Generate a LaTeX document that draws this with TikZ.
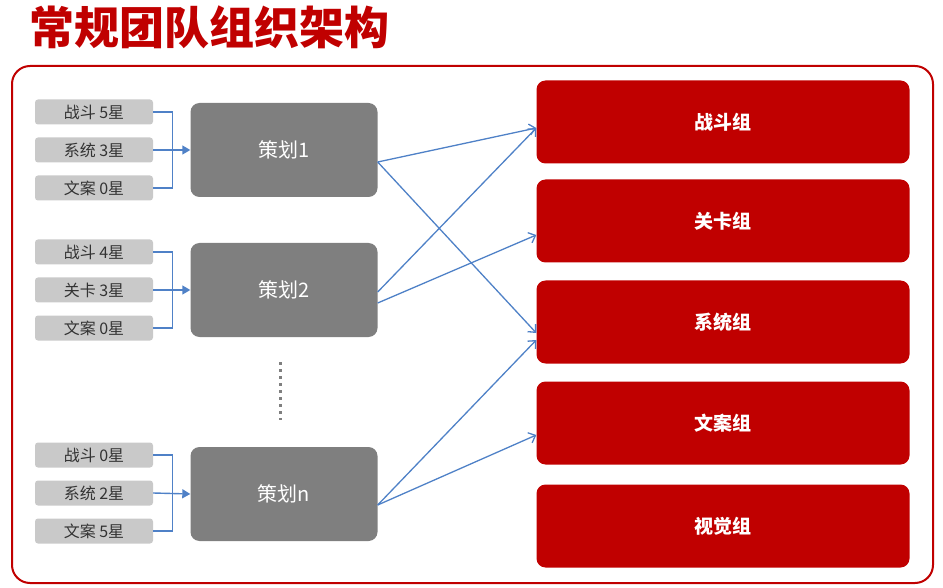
\documentclass[tikz,border=0pt]{standalone}
\usepackage{fontspec}
\setmainfont{Noto Sans CJK SC}
\usetikzlibrary{arrows.meta}
\definecolor{hdred}{HTML}{C00000}
\definecolor{lngray}{HTML}{C9C9C9}
\definecolor{dkgray}{HTML}{7F7F7F}
\definecolor{lnblue}{HTML}{4F81C7}
\tikzset{
  skill/.style={fill=lngray, rounded corners=3pt, minimum width=118pt, minimum height=25pt, inner sep=0pt, font=\fontsize{16}{16}\selectfont, text=black!80},
  planner/.style={fill=dkgray, rounded corners=9pt, minimum width=187pt, minimum height=94pt, inner sep=0pt, font=\fontsize{20}{20}\selectfont, text=white},
  team/.style={fill=hdred, rounded corners=9pt, minimum width=373pt, minimum height=83pt, inner sep=0pt, font=\bfseries\fontsize{19}{19}\selectfont, text=white},
  link/.style={draw=lnblue, line width=1.4pt},
  flow/.style={draw=lnblue, line width=1.3pt, -{Straight Barb[length=6pt,width=11pt]}}
}
\begin{document}
\begin{tikzpicture}[x=1pt,y=-1pt]
  \useasboundingbox (0,0) rectangle (943,588);
  \node (title) [anchor=west, text=hdred, font=\bfseries\fontsize{45}{45}\selectfont] at (26,27) {常规团队组织架构};
  \draw[hdred, line width=2pt, rounded corners=18pt] (12,66) rectangle (933,583);
  % skill tags
  \node (s11) [skill] at (94,112) {战斗 5星};
  \node (s12) [skill] at (94,150) {系统 3星};
  \node (s13) [skill] at (94,188) {文案 0星};
  \node (s21) [skill] at (94,252) {战斗 4星};
  \node (s22) [skill] at (94,290) {关卡 3星};
  \node (s23) [skill] at (94,328) {文案 0星};
  \node (s31) [skill] at (94,455) {战斗 0星};
  \node (s32) [skill] at (94,493) {系统 2星};
  \node (s33) [skill] at (94,531) {文案 5星};
  % planners
  \node (p1) [planner] at (284,150) {策划1};
  \node (p2) [planner] at (284,290) {策划2};
  \node (pn) [planner] at (284,494) {策划n};
  \draw[dkgray, line width=3pt, dash pattern=on 3pt off 4pt] (280,362) -- (280,420);
  % teams
  \node (t1) [team] at (723,122) {战斗组};
  \node (t2) [team] at (723,221) {关卡组};
  \node (t3) [team] at (723,322) {系统组};
  \node (t4) [team] at (723,423) {文案组};
  \node (t5) [team] at (723,526) {视觉组};
  % brackets
  \foreach \g/\p in {1/p1,2/p2,3/pn}{
    \coordinate (j\g) at ([xshift=-18pt]\p.west);
    \draw[link] (s\g1.east) -| (j\g) |- (s\g3.east);
    \draw[link, -{Triangle[length=8pt,width=9pt]}] (s\g2.east) -- (\p.west);
  }
  % assignments
  \draw[flow] ([yshift=-12pt]p1.east) -- ([yshift=-6pt]t1.west);
  \draw[flow] ([yshift=-12pt]p1.east) -- ([yshift=-11pt]t3.west);
  \draw[flow] ([yshift=-2pt]p2.east) -- ([yshift=-6pt]t1.west);
  \draw[flow] ([yshift=-13pt]p2.east) -- ([yshift=-14pt]t2.west);
  \draw[flow] ([yshift=-11pt]pn.east) -- ([yshift=-18pt]t3.west);
  \draw[flow] ([yshift=-11pt]pn.east) -- ([yshift=-12pt]t4.west);
\end{tikzpicture}
\end{document}
